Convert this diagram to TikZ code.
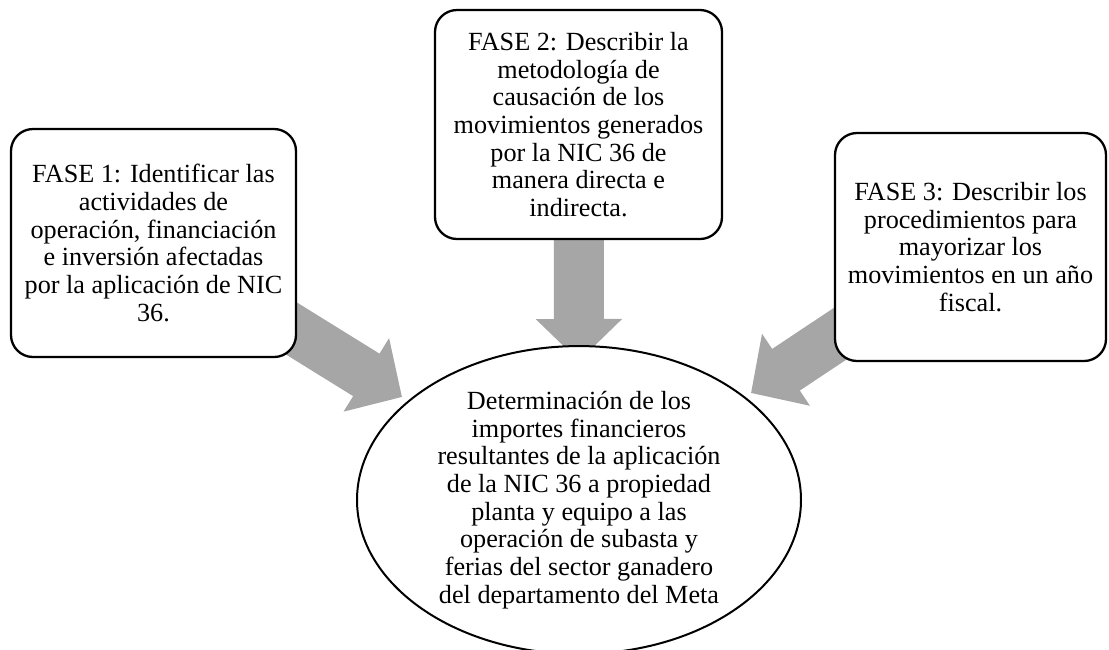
\documentclass[tikz,border=0pt]{standalone}
\usepackage{fontspec}
\setmainfont{Liberation Serif}
\usetikzlibrary{shapes.geometric,arrows.meta,backgrounds}
\definecolor{arrowgray}{RGB}{166,166,166}
\tikzset{
  phasebox/.style={draw=black, line width=2.3pt, fill=white, rounded corners=22pt,
    align=center, inner sep=0pt, font=\fontsize{26.2}{27.7}\selectfont},
  goal/.style={draw=black, line width=2pt, fill=white, ellipse, inner sep=0pt,
    align=center, font=\fontsize{26.2}{27.7}\selectfont},
  bigarrow/.style={draw=arrowgray, line width=50pt, line cap=butt,
    -{Triangle[width=84pt,length=42pt]}}
}
\begin{document}
\begin{tikzpicture}[x=1pt,y=-1pt]
\useasboundingbox (0,0) rectangle (1109,649);
\node[phasebox, minimum width=285pt, minimum height=228pt] (b1) at (153.5,243)
  {FASE 1: Identificar las\\actividades de\\operación, financiación\\e inversión afectadas\\por la aplicación de NIC\\36.};
\node[phasebox, minimum width=287pt, minimum height=229pt] (b2) at (578.5,124.5)
  {FASE 2: Describir la\\metodología de\\causación de los\\movimientos generados\\por la NIC 36 de\\manera directa e\\indirecta.};
\node[phasebox, minimum width=271pt, minimum height=228pt] (b3) at (970.5,247)
  {FASE 3: Describir los\\procedimientos para\\mayorizar los\\movimientos en un año\\fiscal.};
\node[goal, minimum width=444pt, minimum height=290pt] (e) at (579,500)
  {Determinación de los\\importes financieros\\resultantes de la aplicación\\de la NIC 36 a propiedad\\planta y equipo a las\\operación de subasta y\\ferias del sector ganadero\\del departamento del Meta};
\coordinate (t1) at (402,397);
\coordinate (t2) at (579,361);
\coordinate (t3) at (751,393);
\begin{scope}[on background layer]
\draw[bigarrow] (b1.center) -- (t1);
\draw[bigarrow] (b2.center) -- (t2);
\draw[bigarrow] (b3.center) -- (t3);
\end{scope}
\end{tikzpicture}
\end{document}
